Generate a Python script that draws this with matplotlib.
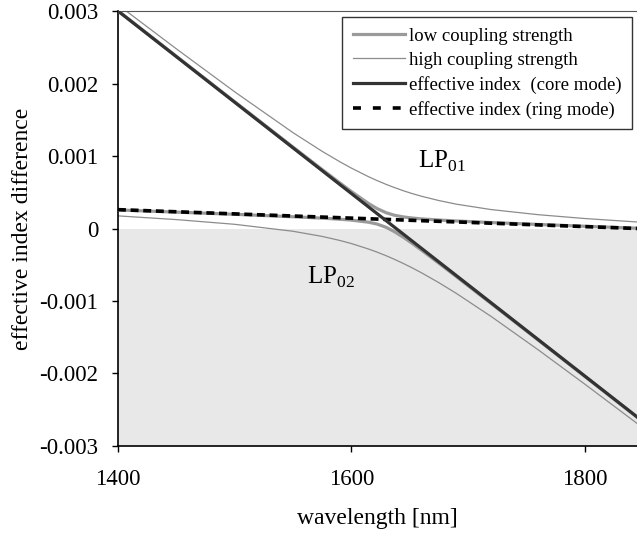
import matplotlib
matplotlib.use("Agg")
import matplotlib.pyplot as plt
from matplotlib.lines import Line2D

plt.rcParams['font.family'] = ['Liberation Serif', 'DejaVu Serif']
plt.rcParams['mathtext.fontset'] = 'custom'
plt.rcParams['mathtext.rm'] = 'Liberation Serif'

# straight lines: uncoupled core and ring mode
line_wl = [1400, 1845]
core_mode = [0.003, -0.002598]
ring_mode = [0.00026, 0.0]

# coupled supermodes
wl = [1400, 1450, 1500, 1550, 1575, 1590, 1600, 1615, 1622, 1630, 1637,
      1645, 1652, 1660, 1675, 1690, 1720, 1760, 1800, 1845]
low_upper = [0.003004, 0.002376, 0.001749, 0.001124, 0.000814, 0.000631,
             0.000511, 0.000343, 0.000276, 0.000217, 0.000183, 0.000159,
             0.000145, 0.000133, 0.000117, 0.000104, 0.000082, 0.000056,
             0.000031, 0.000004]
low_lower = [0.000256, 0.000226, 0.000196, 0.000162, 0.000143, 0.000128,
             0.000116, 0.0000865, 0.0000617, 0.0000157, -0.000043, -0.000124,
             -0.000202, -0.000296, -0.000477, -0.000662, -0.001035, -0.001535,
             -0.002037, -0.002602]
high_upper = [0.003086, 0.002479, 0.001886, 0.001323, 0.001065, 0.000923,
              0.000834, 0.000713, 0.000662, 0.000608, 0.000565, 0.000519,
              0.000483, 0.000446, 0.000386, 0.000336, 0.000261, 0.000191,
              0.000138, 0.00009]
high_lower = [0.000174, 0.000123, 0.000058, -0.000038, -0.000109, -0.000164,
              -0.000207, -0.000284, -0.000325, -0.000376, -0.000425, -0.000485,
              -0.000541, -0.000609, -0.000746, -0.000894, -0.001214, -0.00167,
              -0.002144, -0.002688]

x_ticks = [1400, 1600, 1800]
y_ticks = [-0.003, -0.002, -0.001, 0, 0.001, 0.002, 0.003]
y_ticklabels = ['-0.003', '-0.002', '-0.001', '0', '0.001', '0.002', '0.003']

fig = plt.figure(figsize=(6.37, 5.4), dpi=100)
ax = fig.add_axes([0.1852, 0.1741, 0.8148, 0.8055])

ax.axhspan(-0.003, 0, color='#e8e8e8', lw=0, zorder=0)

h_high, = ax.plot(wl, high_upper, color='#8c8c8c', lw=0.9, zorder=2)
ax.plot(wl, high_lower, color='#8c8c8c', lw=0.9, zorder=2)
h_low, = ax.plot(wl, low_upper, color='#9a9a9a', lw=2.3, zorder=3)
ax.plot(wl, low_lower, color='#9a9a9a', lw=2.3, zorder=3)
ax.plot(line_wl, ring_mode, color='black', lw=2.6, dashes=(2.2, 1.3), zorder=4)
h_core, = ax.plot(line_wl, core_mode, color='#333333', lw=2.3, zorder=5)
# legend sample for the ring mode uses wider gaps
h_ring = Line2D([], [], color='black', lw=2.6, dashes=(2.2, 3.3))

ax.text(1657, 0.00093, r'LP$_{01}$', fontsize=18, ha='left', va='center')
ax.text(1562, -0.00068, r'LP$_{02}$', fontsize=18, ha='left', va='center')

ax.set_xlim(1400, 1845)
ax.set_ylim(-0.003, 0.003)
ax.set_xticks(x_ticks)
ax.set_yticks(y_ticks)
ax.set_yticklabels(y_ticklabels)
ax.tick_params(direction='out', length=4.3, width=1, labelsize=16.5)
ax.tick_params(axis='y', pad=10)
ax.tick_params(axis='x', pad=12)

ax.spines['right'].set_visible(False)
ax.spines['top'].set_color('#555555')
ax.spines['left'].set_linewidth(1.2)
ax.spines['bottom'].set_linewidth(1.2)

ax.set_xlabel('wavelength [nm]', fontsize=17, labelpad=13)
ax.set_ylabel('effective index difference', fontsize=17)
ax.yaxis.set_label_coords(-0.164, 0.5)

leg = ax.legend([h_low, h_high, h_core, h_ring],
                ['low coupling strength', 'high coupling strength',
                 'effective index  (core mode)', 'effective index (ring mode)'],
                loc='upper right', bbox_to_anchor=(0.99, 0.986), fontsize=13.5,
                frameon=True, fancybox=False, edgecolor='black',
                handlelength=2.8, handletextpad=0.2, labelspacing=0.38,
                borderpad=0.55, borderaxespad=0)
leg.get_frame().set_linewidth(1.0)

fig.savefig('out.png', dpi=100)
